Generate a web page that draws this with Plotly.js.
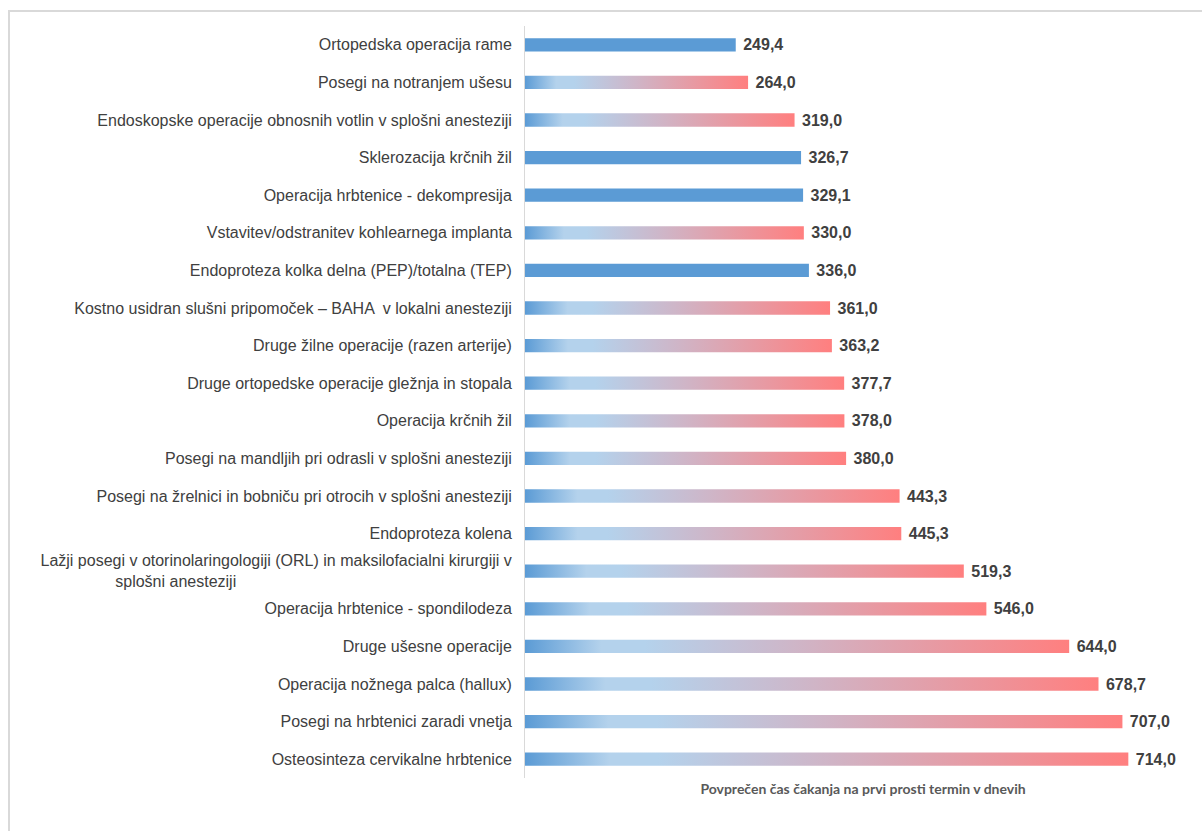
<!DOCTYPE html>
<html>
<head>
<meta charset="utf-8">
<script src="https://cdn.plot.ly/plotly-3.0.1.min.js"></script>
<style>
  html, body { margin: 0; padding: 0; background: #ffffff; }
  #wrap { position: relative; width: 1202px; height: 831px; overflow: hidden; }
  #chart { position: absolute; left: 0; top: 0; width: 1202px; height: 831px; }
  #frame { position: absolute; left: 8px; top: 10px; width: 1300px; height: 900px;
           border: 2px solid #d9d9d9; box-sizing: border-box; pointer-events: none; }
</style>
</head>
<body>
<div id="wrap">
  <div id="chart"></div>
  <div id="frame"></div>
</div>
<script>
const NB = '\u00A0';
const categories = [
  "Ortopedska operacija rame",
  "Posegi na notranjem ušesu",
  "Endoskopske operacije obnosnih votlin v splošni anesteziji",
  "Sklerozacija krčnih žil",
  "Operacija hrbtenice - dekompresija",
  "Vstavitev/odstranitev kohlearnega implanta",
  "Endoproteza kolka delna (PEP)/totalna (TEP)",
  "Kostno usidran slušni pripomoček – BAHA " + NB + "v lokalni anesteziji",
  "Druge žilne operacije (razen arterije)",
  "Druge ortopedske operacije gležnja in stopala",
  "Operacija krčnih žil",
  "Posegi na mandljih pri odrasli v splošni anesteziji",
  "Posegi na žrelnici in bobniču pri otrocih v splošni anesteziji",
  "Endoproteza kolena",
  "Lažji posegi v otorinolaringologiji (ORL) in maksilofacialni kirurgiji v<br>splošni anesteziji" + NB.repeat(62),
  "Operacija hrbtenice - spondilodeza",
  "Druge ušesne operacije",
  "Operacija nožnega palca (hallux)",
  "Posegi na hrbtenici zaradi vnetja",
  "Osteosinteza cervikalne hrbtenice"
];
const values = [249.4, 264.0, 319.0, 326.7, 329.1, 330.0, 336.0, 361.0, 363.2, 377.7,
                378.0, 380.0, 443.3, 445.3, 519.3, 546.0, 644.0, 678.7, 707.0, 714.0];
// 1 = solid blue bar, 0 = gradient bar
const solidBar = [1, 0, 0, 1, 1, 0, 1, 0, 0, 0, 0, 0, 0, 0, 0, 0, 0, 0, 0, 0];
const xTitle = "Povprečen čas čakanja na prvi prosti termin v dnevih";

const BLUE = '#5B9BD5';
const RED = '#FF7F7F';

const labels = values.map(v => NB + v.toFixed(1).replace('.', ','));
const colors = solidBar.map(s => s ? BLUE : RED);

const trace = {
  type: 'bar',
  orientation: 'h',
  y: categories,
  x: values,
  marker: { color: colors, line: { width: 0 } },
  text: labels,
  textposition: 'outside',
  constraintext: 'none',
  cliponaxis: false,
  textfont: { family: 'Liberation Sans, Arial, sans-serif', size: 16, color: '#404040', weight: 'bold' },
  hoverinfo: 'x+y'
};

const layout = {
  width: 1202,
  height: 831,
  margin: { l: 525, r: 1, t: 26, b: 53 },
  paper_bgcolor: 'rgba(0,0,0,0)',
  plot_bgcolor: 'rgba(0,0,0,0)',
  showlegend: false,
  bargap: 0.645,
  font: { family: 'Liberation Sans, Arial, sans-serif', color: '#404040' },
  xaxis: {
    range: [0, 800],
    showgrid: false,
    zeroline: false,
    showline: false,
    showticklabels: false,
    ticks: '',
    fixedrange: true,
    title: { text: xTitle, font: { family: 'Lato, sans-serif', size: 14, color: '#595959', weight: 'bold' }, standoff: 6 }
  },
  yaxis: {
    type: 'category',
    autorange: 'reversed',
    showgrid: false,
    zeroline: false,
    showline: true,
    linecolor: '#d9d9d9',
    linewidth: 1,
    ticks: '',
    ticklabelstandoff: 9,
    tickfont: { family: 'Liberation Sans, Arial, sans-serif', size: 16, color: '#404040' },
    fixedrange: true
  }
};

function applyGradient(gd) {
  const svg = gd.querySelector('.main-svg');
  if (!svg) return;
  const ns = 'http://www.w3.org/2000/svg';
  let defs = svg.querySelector('defs');
  if (!defs) { defs = document.createElementNS(ns, 'defs'); svg.insertBefore(defs, svg.firstChild); }
  if (!svg.querySelector('#barGrad')) {
    const lg = document.createElementNS(ns, 'linearGradient');
    lg.setAttribute('id', 'barGrad');
    lg.setAttribute('x1', '0'); lg.setAttribute('y1', '0');
    lg.setAttribute('x2', '1'); lg.setAttribute('y2', '0');
    const stops = [[0, BLUE], [0.14, '#B4D2EC'], [0.22, '#B4D2EC'], [0.5, '#CFB5C7'], [1, RED]];
    stops.forEach(([o, c]) => {
      const s = document.createElementNS(ns, 'stop');
      s.setAttribute('offset', o);
      s.setAttribute('stop-color', c);
      lg.appendChild(s);
    });
    defs.appendChild(lg);
  }
  const pts = gd.querySelectorAll('.barlayer .trace .point');
  pts.forEach((p, i) => {
    if (!solidBar[i]) {
      const path = p.querySelector('path');
      if (path) path.style.fill = 'url(#barGrad)';
    }
  });
}

const gd = document.getElementById('chart');
Plotly.newPlot(gd, [trace], layout, { displayModeBar: false, staticPlot: true }).then(() => applyGradient(gd));
</script>
</body>
</html>
